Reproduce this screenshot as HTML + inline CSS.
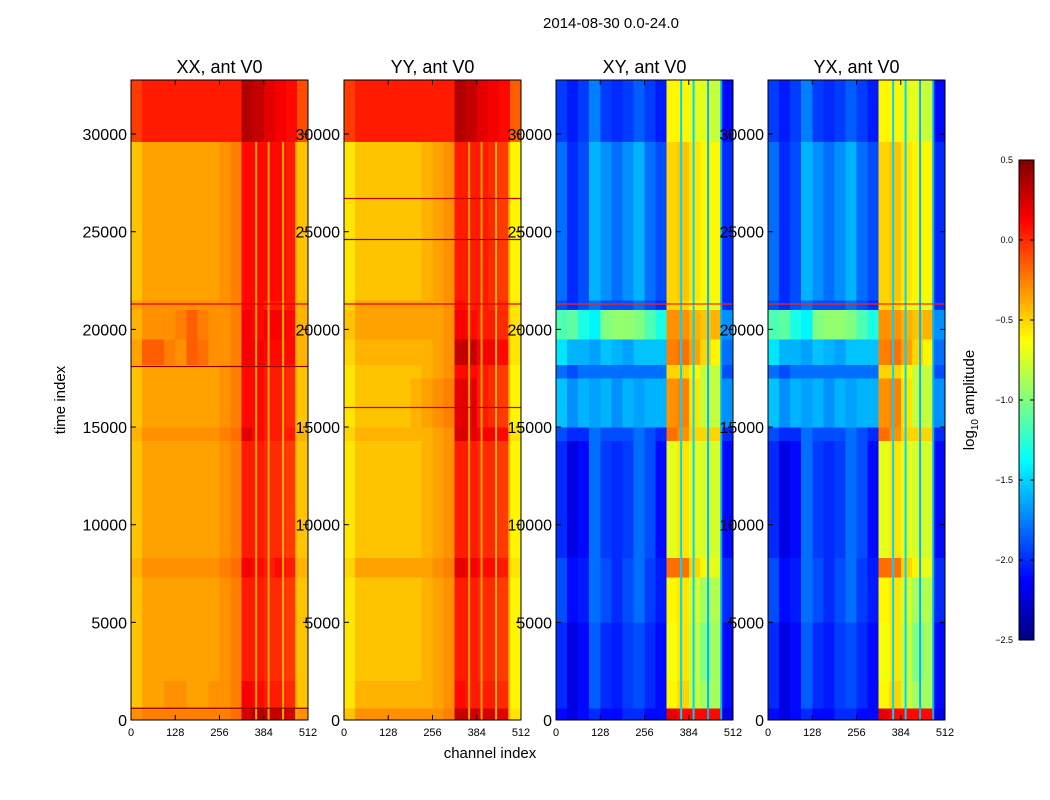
<!DOCTYPE html>
<html><head><meta charset="utf-8">
<style>
body{margin:0;background:#fff;}
svg{display:block;font-family:"Liberation Sans",sans-serif;}
</style></head>
<body>
<svg id="fig" width="1050" height="800" viewBox="0 0 1050 800">
<rect width="1050" height="800" fill="#fff"/>
<text x="611" y="28" font-size="15" text-anchor="middle">2014-08-30 0.0-24.0</text>
<text x="490" y="758" font-size="15" text-anchor="middle">channel index</text>
<text transform="translate(65,400) rotate(-90)" font-size="15" text-anchor="middle">time index</text>
<g id="panels"></g>
<g id="cbar"></g>
<text transform="translate(974,400) rotate(-90)" font-size="15" text-anchor="middle">log<tspan font-size="10" dy="4">10</tspan><tspan dy="-4"> amplitude</tspan></text>
</svg>
<script>
const timeEdges=[0,600,2000,5000,7300,8300,14300,15000,17500,18200,19500,21000,21500,29600,32768];
const channelEdges=[0,32,64,96,128,160,192,224,256,288,320,352,384,416,448,480,512];
const xTicks=[0,128,256,384,512];
const yTicks=[0,5000,10000,15000,20000,25000,30000];
const cbarTicks=[0.5,0.0,-0.5,-1.0,-1.5,-2.0,-2.5];
const titles=["XX, ant V0","YY, ant V0","XY, ant V0","YX, ant V0"];
const xxValues=[
[-.3,-.25,-.25,-.25,-.25,-.25,-.25,-.25,-.25,-.2,.25,.35,.3,.3,.25,-.3],
[-.45,-.35,-.35,-.3,-.3,-.35,-.35,-.3,-.3,-.25,.15,.1,.05,.05,0,-.45],
[-.45,-.35,-.35,-.35,-.35,-.35,-.35,-.35,-.3,-.25,.05,.05,0,0,-.05,-.45],
[-.45,-.35,-.35,-.35,-.35,-.35,-.35,-.35,-.3,-.25,.05,.05,0,0,-.05,-.45],
[-.4,-.3,-.3,-.3,-.3,-.3,-.3,-.3,-.25,-.2,.15,.1,.05,.1,.05,-.4],
[-.45,-.35,-.35,-.35,-.35,-.35,-.35,-.35,-.3,-.25,.05,.05,0,0,-.05,-.45],
[-.4,-.3,-.3,-.3,-.3,-.3,-.3,-.3,-.25,-.2,.2,.1,.05,.05,.05,-.4],
[-.45,-.35,-.35,-.35,-.35,-.35,-.35,-.35,-.3,-.25,.1,.1,.05,.05,0,-.45],
[-.45,-.35,-.35,-.35,-.35,-.35,-.35,-.35,-.3,-.25,.1,.1,.05,.05,0,-.45],
[-.35,-.15,-.15,-.25,-.3,-.15,-.2,-.3,-.3,-.25,.15,.15,.1,.1,.1,-.4],
[-.4,-.3,-.3,-.3,-.25,-.15,-.25,-.3,-.3,-.25,.15,.1,.15,.15,.1,-.4],
[-.35,-.3,-.3,-.3,-.3,-.3,-.3,-.3,-.3,-.25,.1,.1,.05,.05,.05,-.4],
[-.45,-.35,-.35,-.35,-.35,-.35,-.35,-.35,-.3,-.25,.1,.1,.1,.1,.05,-.45],
[-.05,.05,.05,.05,.05,.05,.05,.05,.05,.05,.35,.3,.2,.15,.1,-.1]];
const yyValues=[
[-.45,-.3,-.3,-.3,-.3,-.3,-.3,-.3,-.3,-.25,.3,.3,.25,.25,.2,-.55],
[-.55,-.4,-.4,-.4,-.4,-.4,-.4,-.4,-.35,-.3,.1,.05,.05,.05,0,-.6],
[-.55,-.45,-.45,-.45,-.45,-.45,-.45,-.4,-.35,-.3,.05,.05,0,0,-.05,-.6],
[-.55,-.45,-.45,-.45,-.45,-.45,-.45,-.4,-.35,-.3,.05,.05,0,0,-.05,-.6],
[-.5,-.35,-.35,-.35,-.35,-.35,-.35,-.35,-.3,-.25,.2,.15,.1,.1,.05,-.55],
[-.55,-.45,-.45,-.45,-.45,-.45,-.45,-.4,-.35,-.3,.05,.05,0,0,-.05,-.6],
[-.5,-.4,-.4,-.4,-.4,-.4,-.4,-.4,-.35,-.3,.25,.2,.15,.15,.1,-.55],
[-.55,-.45,-.45,-.45,-.45,-.45,-.4,-.35,-.3,-.25,.2,.2,.05,0,-.05,-.6],
[-.55,-.45,-.45,-.45,-.45,-.45,-.45,-.4,-.35,-.3,.1,.1,.05,0,-.05,-.6],
[-.5,-.4,-.4,-.4,-.4,-.4,-.4,-.4,-.35,-.3,.3,.3,.15,.15,.1,-.55],
[-.45,-.35,-.35,-.35,-.35,-.35,-.35,-.35,-.35,-.3,.15,.1,.05,.05,0,-.55],
[-.5,-.35,-.35,-.35,-.35,-.35,-.35,-.35,-.35,-.3,.1,.05,.05,0,0,-.55],
[-.55,-.45,-.45,-.45,-.45,-.45,-.45,-.4,-.35,-.3,.05,.05,.05,0,-.05,-.6],
[-.05,.05,.05,.05,.05,.05,.05,.05,.05,.05,.35,.3,.2,.15,.1,-.15]];
const xyValues=[
[-2.1,-2.2,-2.1,-2.0,-2.1,-2.1,-2.0,-2.0,-2.1,-2.1,0.2,0.1,0.1,0.1,0.1,-2.2],
[-2.0,-2.2,-2.1,-1.85,-2.0,-2.05,-1.95,-1.9,-2.0,-2.1,-0.6,-0.5,-0.8,-0.9,-0.9,-2.1],
[-2.0,-2.2,-2.1,-1.85,-2.0,-2.05,-1.95,-1.9,-2.0,-2.1,-0.65,-0.55,-0.8,-1.0,-0.9,-2.1],
[-1.9,-2.1,-2.05,-1.8,-1.9,-2.0,-1.9,-1.8,-1.95,-2.05,-0.6,-0.55,-0.75,-0.9,-0.85,-2.0],
[-1.9,-2.1,-2.05,-1.8,-1.9,-2.0,-1.9,-1.8,-1.95,-2.05,-0.2,-0.2,-0.5,-0.6,-0.7,-2.0],
[-2.0,-2.2,-2.1,-1.8,-1.95,-2.0,-1.95,-1.8,-1.9,-2.1,-0.7,-0.55,-0.7,-0.75,-0.75,-2.1],
[-1.9,-2.0,-2.0,-1.8,-1.9,-1.9,-1.9,-1.8,-1.9,-2.0,-0.2,-0.3,-0.5,-0.5,-0.5,-2.0],
[-1.55,-1.7,-1.6,-1.65,-1.6,-1.7,-1.6,-1.65,-1.6,-1.6,-0.3,-0.25,-0.55,-0.8,-0.8,-1.7],
[-1.8,-1.9,-1.8,-1.8,-1.8,-1.8,-1.8,-1.8,-1.8,-1.8,-0.5,-0.5,-0.6,-0.8,-0.8,-1.9],
[-1.45,-1.6,-1.6,-1.65,-1.55,-1.6,-1.65,-1.55,-1.55,-1.55,-0.25,-0.2,-0.35,-0.5,-0.6,-1.8],
[-1.15,-1.1,-1.3,-1.4,-1.0,-0.95,-0.95,-1.0,-1.15,-1.3,-0.3,-0.3,-0.4,-0.45,-0.4,-1.7],
[-1.9,-2.0,-1.9,-1.8,-1.9,-1.9,-1.9,-1.8,-1.9,-2.0,-0.5,-0.5,-0.6,-0.7,-0.7,-2.0],
[-1.8,-2.0,-1.9,-1.6,-1.7,-1.8,-1.7,-1.6,-1.8,-1.9,-0.5,-0.45,-0.55,-0.6,-0.6,-2.0],
[-1.95,-2.05,-1.95,-1.75,-1.95,-2.0,-1.95,-1.85,-1.95,-2.05,-0.6,-0.6,-0.7,-0.7,-0.8,-2.1]];
const yxValues=xyValues.map(r=>r.slice());
const panelData=[xxValues,yyValues,xyValues,yxValues];
// gaps between strips in the high-amplitude band: channel centres and value (auto / cross)
const gapChannels=[362,398,440,478];
const gapAutoValues=[-0.35,-0.35,-0.4,-0.4];
const gapCrossValues=[-1.5,-1.5,-1.6,-1.6];
// thin horizontal lines: [panel, time, value]
const lineTimes=[[0,600,0.45],[0,18100,0.45],[0,21300,0.2],[1,26700,0.3],[1,24600,0.45],[1,21300,0.2],[1,16000,0.3],[2,21300,0.0],[3,21300,0.0]];

const PX=[131,344,556,768], PW=177, TOP=80, BOT=720;
const VMIN=-2.5, VMAX=0.5, TMAX=32768;
function jet(v){
  let t=Math.max(0,Math.min(1,(v-VMIN)/(VMAX-VMIN)));
  const c=(x)=>Math.max(0,Math.min(1,x));
  let r=c(Math.min(4*t-1.5,-4*t+4.5)), g=c(Math.min(4*t-0.5,-4*t+3.5)), b=c(Math.min(4*t+0.5,-4*t+2.5));
  return `rgb(${Math.round(r*255)},${Math.round(g*255)},${Math.round(b*255)})`;
}
const NS="http://www.w3.org/2000/svg";
function el(tag,attrs,parent){const e=document.createElementNS(NS,tag);for(const k in attrs)e.setAttribute(k,attrs[k]);parent.appendChild(e);return e;}
const panels=document.getElementById('panels');
for(let p=0;p<4;p++){
  const x0=PX[p];
  const xs=c=>x0+c/512*PW, ys=t=>BOT-t/TMAX*(BOT-TOP);
  const g=el('g',{},panels);
  
  
  const vals=panelData[p];
  for(let i=0;i<timeEdges.length-1;i++){
    for(let j=0;j<channelEdges.length-1;j++){
      const r=el('rect',{x:xs(channelEdges[j]),y:ys(timeEdges[i+1]),width:xs(channelEdges[j+1])-xs(channelEdges[j])+0.3,height:ys(timeEdges[i])-ys(timeEdges[i+1])+0.3,fill:jet(vals[i][j]),'shape-rendering':'crispEdges'},g);
      
      
    }
  }
  gapChannels.forEach((ch,k)=>{
    const v=p<2?gapAutoValues[k]:gapCrossValues[k];
    const yTop=p<2?ys(29600):TOP;
    const gl=el('line',{x1:xs(ch),x2:xs(ch),y1:yTop,y2:BOT,stroke:jet(v),'stroke-width':2},g);
    
    
  });
  lineTimes.filter(l=>l[0]===p).forEach(l=>{
    const ln=el('line',{x1:x0,x2:x0+PW,y1:ys(l[1]),y2:ys(l[1]),stroke:jet(l[2]),'stroke-width':1.2},g);
    
    
  });
  const fr=el('rect',{x:x0,y:TOP,width:PW,height:BOT-TOP,fill:'none',stroke:'#000','stroke-width':1},g);
  
  
  const tt=el('text',{x:x0+PW/2,y:73,'font-size':18,'text-anchor':'middle'},g);
  tt.textContent=titles[p];
  
  
  xTicks.forEach(v=>{
    const X=xs(v);
    el('line',{x1:X,x2:X,y1:BOT,y2:BOT-5,stroke:'#000'},g);
    el('line',{x1:X,x2:X,y1:TOP,y2:TOP+5,stroke:'#000'},g);
    const t=el('text',{x:X,y:736,'font-size':11,'text-anchor':'middle'},g);
    t.textContent=v;
    
    
  });
  yTicks.forEach(v=>{
    const Y=ys(v);
    el('line',{x1:x0,x2:x0+5,y1:Y,y2:Y,stroke:'#000'},g);
    el('line',{x1:x0+PW,x2:x0+PW-5,y1:Y,y2:Y,stroke:'#000'},g);
    const t=el('text',{x:x0-4,y:Y+6,'font-size':16,'text-anchor':'end'},g);
    t.textContent=v;
    
    
  });
}
// colorbar
const cb=document.getElementById('cbar');
const CX=1019,CW=15,CT=160,CB=640;
for(let i=0;i<120;i++){
  const v=VMIN+(i+0.5)/120*(VMAX-VMIN);
  const h=(CB-CT)/120;
  el('rect',{x:CX,y:CB-(i+1)*h,width:CW,height:h+0.4,fill:jet(v),'shape-rendering':'crispEdges'},cb);
}
el('rect',{x:CX,y:CT,width:CW,height:CB-CT,fill:'none',stroke:'#000'},cb);
cbarTicks.forEach(v=>{
  const Y=CB-(v-VMIN)/(VMAX-VMIN)*(CB-CT);
  el('line',{x1:CX,x2:CX+4,y1:Y,y2:Y,stroke:'#000'},cb);
  el('line',{x1:CX+CW,x2:CX+CW-4,y1:Y,y2:Y,stroke:'#000'},cb);
  const t=el('text',{x:CX-6,y:Y+3,'font-size':9,'text-anchor':'end'},cb);
  t.textContent=(v<0?'\u2212':'')+Math.abs(v).toFixed(1);
  
  
});
</script>
</body></html>
